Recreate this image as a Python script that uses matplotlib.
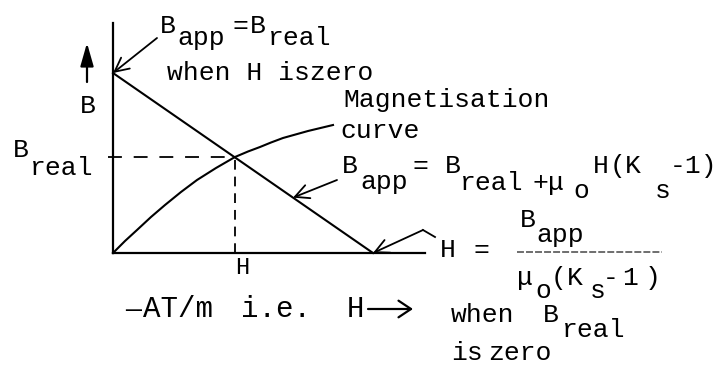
import matplotlib.pyplot as plt

plt.rcParams['font.family'] = ['Liberation Mono', 'DejaVu Sans Mono']
plt.rcParams['lines.scale_dashes'] = False

# magnetisation curve B(H), drawing units
mag_H = [0, 12, 24, 38, 52, 68, 84, 103, 122, 135, 147, 158, 170, 195, 220]
mag_B = [0, 12, 23, 36, 48, 61, 73, 85, 96, 101.5, 106, 110.5, 115, 122, 128]

# load line: B_app at H = 0, B_real = 0 at H = H_zero
B_app = 180
H_zero = 260

# operating point (where the two lines cross)
H_op = 122
B_op = 96

# length of the axes
H_axis = 312
B_axis = 230

W, Hpx = 722, 369
fig = plt.figure(figsize=(W / 100, Hpx / 100), dpi=100)
ax = fig.add_axes([0, 0, 1, 1])
ax.set_xlim(-113, W - 113)
ax.set_ylim(-(Hpx - 253), 253)
ax.axis('off')


def put(s, x, y, size=19):
    # x, y = left / baseline in pixels from the top-left corner
    fig.text(x / W, 1 - y / Hpx, s, fontsize=size, ha='left', va='baseline')


# axes
ax.plot([0, 0], [0, B_axis], color='k', lw=1.6)
ax.plot([0, H_axis], [0, 0], color='k', lw=1.6)

# load line and magnetisation curve
ax.plot([0, H_zero], [B_app, 0], color='k', lw=1.5)
ax.plot(mag_H, mag_B, color='k', lw=1.5)

# dashed guides to the operating point
ax.plot([-5, H_op], [B_op, B_op], color='k', lw=1.3, dashes=(10, 8.5))
ax.plot([H_op, H_op], [0, B_op], color='k', lw=1.3, dashes=(7, 5))

# arrows
arr = dict(arrowstyle='->,head_length=0.5,head_width=0.25', color='k', lw=1.3,
           mutation_scale=20, shrinkA=0, shrinkB=0)
ax.annotate('', xy=(0, B_app), xytext=(44, 215), arrowprops=arr)
H_pt = 180
ax.annotate('', xy=(H_pt, B_app * (1 - H_pt / H_zero)), xytext=(224, 73), arrowprops=arr)
ax.annotate('', xy=(H_zero, 0), xytext=(310, 23), arrowprops=arr)
ax.plot([310, 322], [23, 16], color='k', lw=1.3)
ax.annotate('', xy=(-26, 210), xytext=(-26, 171),
            arrowprops=dict(arrowstyle='-|>,head_length=0.7,head_width=0.2', color='k',
                            lw=1.6, mutation_scale=20, shrinkA=0, shrinkB=0))

# labels
put('B', 160, 33)
put('app', 177, 45)
put('=', 232, 33)
put('B', 250, 33)
put('real', 268, 45)
put('when H iszero', 167, 80)

put('B', 80, 113)
put('B', 13, 157)
put('real', 30, 175)

put('Magnetisation', 343, 107)
put('curve', 340, 138)

put('B', 342, 173)
put('app', 360, 189)
put('=', 413, 173)
put('B', 445, 173)
put('real', 460, 190)
put('+', 532, 190)
put('\u03bc', 548, 190)
put('o', 573, 198)
put('H', 593, 173)
put('(', 610, 173)
put('K', 625, 173)
put('s', 655, 198)
put('-1)', 670, 173)

put('H', 235, 274, 17)

put('H', 440, 257)
put('=', 474, 257)
put('B', 520, 227)
put('app', 536, 242)
ax.plot([404, 549], [1, 1], color='#555555', lw=1.2, dashes=(5, 1.5))
put('\u03bc', 517, 285)
put('o', 535, 298)
put('(', 551, 285)
put('K', 567, 285)
put('s', 590, 298)
put('-', 603, 285)
put('1', 622, 285)
put(')', 645, 285)

# H axis caption
put('\u2014', 125, 317)
put('AT/m', 143, 317, 21)
put('i.e.', 241, 317, 21)
put('H', 347, 317, 21)
ax.annotate('', xy=(413 - 113, 253 - 309), xytext=(368 - 113, 253 - 309),
            arrowprops=dict(arrowstyle='->,head_length=0.45,head_width=0.3', color='k',
                            lw=1.6, mutation_scale=20, shrinkA=0, shrinkB=0))
put('when', 451, 322)
put('B', 543, 322)
put('real', 562, 337)
put('is', 451, 360)
put('zero', 488, 360)

fig.savefig('out.png', dpi=100)
